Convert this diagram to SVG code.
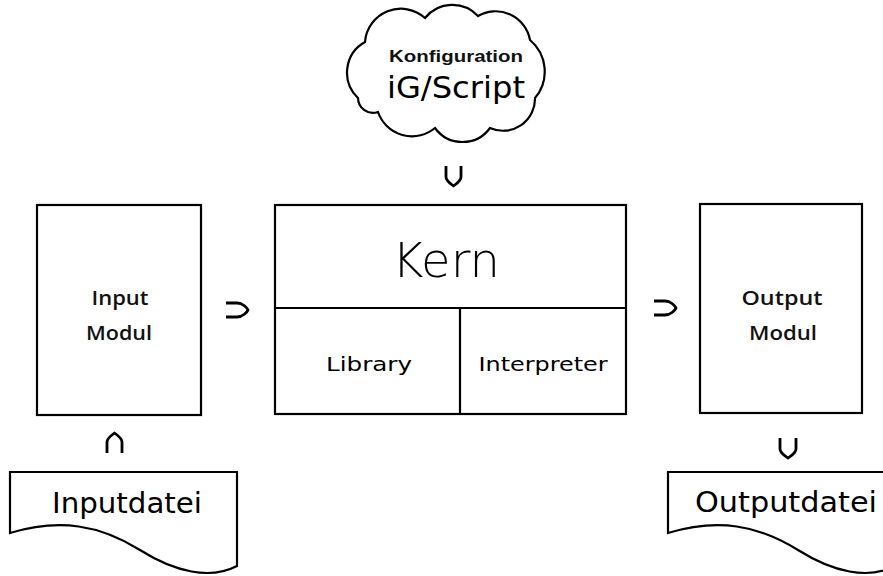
<svg xmlns="http://www.w3.org/2000/svg" width="883" height="576" viewBox="0 0 883 576">
<style>
.box{fill:#fff;stroke:#000;stroke-width:2.2}
.line{fill:none;stroke:#000;stroke-width:2.2}
.arr{fill:none;stroke:#000;stroke-width:2.8;stroke-linejoin:round}
.t{font-family:"DejaVu Sans","Liberation Sans",sans-serif;fill:#000;text-anchor:middle}
.b{font-family:"Liberation Sans",Arial,sans-serif;font-weight:bold;fill:#111;text-anchor:middle}
.m{font-family:"Open Sans","Liberation Sans",Arial,sans-serif;font-weight:600;fill:#111;text-anchor:middle;font-size:20px}
</style>
<rect width="883" height="576" fill="#fff"/>
<g id="cloud">
<path class="box" d="M358,98 A35,35 0 0 1 365,42 A36,36 0 0 1 425,18 A35,35 0 0 1 478,16 A35,35 0 0 1 530,40 A41,41 0 0 1 535,98 A32,32 0 0 1 490,128 A34,34 0 0 1 435,128 A36,36 0 0 1 378,112 A15,15 0 0 1 358,98 Z"/>
<text class="b" x="456" y="62" font-size="16" textLength="134" lengthAdjust="spacingAndGlyphs">Konfiguration</text>
<text class="t" x="456" y="98" font-size="30" textLength="138" lengthAdjust="spacingAndGlyphs">iG/Script</text>
</g>
<g id="input-modul">
<rect class="box" x="37" y="205" width="164" height="210"/>
<text class="m" x="120" y="305" textLength="57" lengthAdjust="spacingAndGlyphs">Input</text>
<text class="m" x="119" y="340" textLength="66" lengthAdjust="spacingAndGlyphs">Modul</text>
</g>
<g id="kern">
<rect class="box" x="275" y="205" width="351" height="209"/>
<line class="line" x1="275" y1="308" x2="626" y2="308"/>
<line class="line" x1="460" y1="308" x2="460" y2="414"/>
<text class="t" x="446" y="277" font-size="48" font-weight="200" textLength="108" lengthAdjust="spacingAndGlyphs">Kern</text>
</g>
<g id="library">
<text class="t" x="369" y="371" font-size="20" textLength="86" lengthAdjust="spacingAndGlyphs">Library</text>
</g>
<g id="interpreter">
<text class="t" x="543" y="371" font-size="20" textLength="129" lengthAdjust="spacingAndGlyphs">Interpreter</text>
</g>
<g id="output-modul">
<rect class="box" x="700" y="204" width="162" height="209"/>
<text class="m" x="782" y="305" textLength="81" lengthAdjust="spacingAndGlyphs">Output</text>
<text class="m" x="783" y="340" textLength="68" lengthAdjust="spacingAndGlyphs">Modul</text>
</g>
<g id="inputdatei">
<path class="box" d="M10,472 H237 V566 C210,580 175,572 140,550 C100,525 60,518 10,533 Z"/>
<text class="t" x="127" y="513" font-size="28" textLength="150" lengthAdjust="spacingAndGlyphs">Inputdatei</text>
</g>
<g id="outputdatei">
<path class="box" d="M668,472 H895 V566 C868,580 833,572 798,550 C758,525 718,518 668,533 Z"/>
<text class="t" x="786" y="512" font-size="28" textLength="182" lengthAdjust="spacingAndGlyphs">Outputdatei</text>
</g>
<g id="connectors">
<path class="arr" d="M226,303 H237 C243,303 247,308 248,310 C247,312 243,317 237,317 H226"/>
<path class="arr" d="M654,301 H665 C671,301 675,306 676,308 C675,310 671,315 665,315 H654"/>
<path class="arr" d="M446,166 V177 C446,181 451,184 453.5,186 C456,184 461,181 461,177 V166"/>
<path class="arr" d="M107,453 V442 C107,438 112,435 114.5,433 C117,435 122,438 122,442 V453"/>
<path class="arr" d="M780,438 V449 C780,453 785,456 788,458 C791,456 796,453 796,449 V438"/>
</g>
</svg>
